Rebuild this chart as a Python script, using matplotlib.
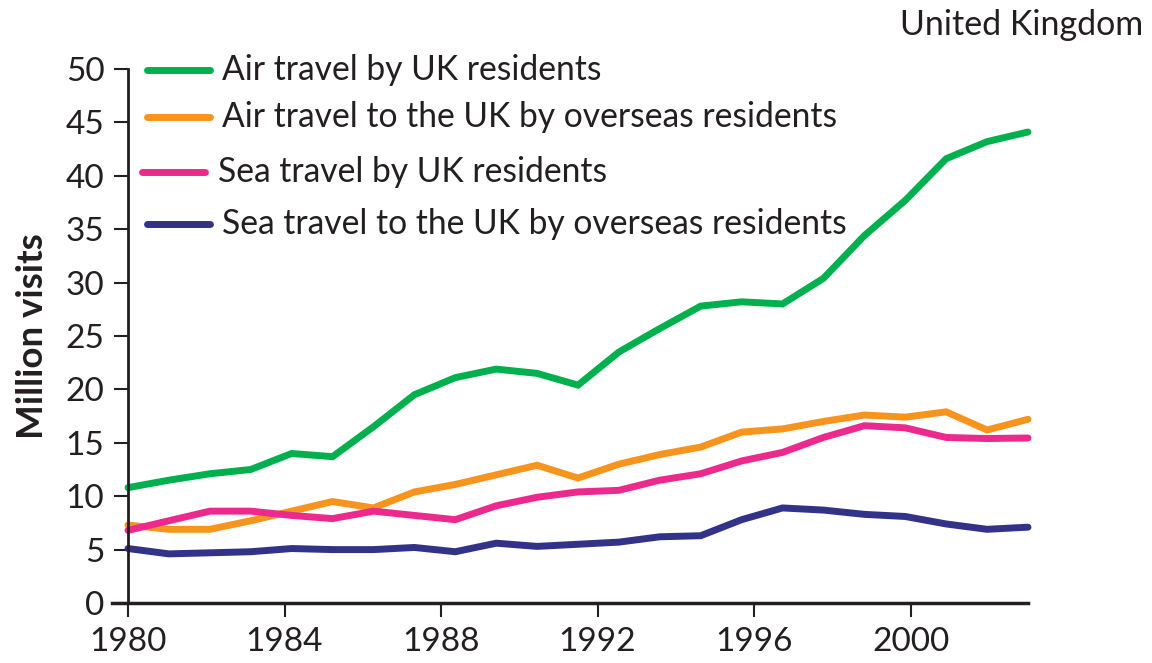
import numpy as np
import matplotlib.pyplot as plt
from matplotlib.lines import Line2D

# -------------------------
# Data (million visits)
# -------------------------
air_uk = [10.8, 11.5, 12.1, 12.5, 14.0, 13.7, 16.5, 19.5, 21.1, 21.9, 21.5, 20.4,
          23.5, 25.7, 27.8, 28.2, 28.0, 30.4, 34.4, 37.7, 41.6, 43.2, 44.1]
air_overseas = [7.3, 6.9, 6.9, 7.7, 8.6, 9.5, 8.9, 10.4, 11.1, 12.0, 12.9, 11.7,
                13.0, 13.9, 14.6, 16.0, 16.3, 17.0, 17.6, 17.4, 17.9, 16.2, 17.2]
sea_uk = [6.8, 7.7, 8.6, 8.6, 8.2, 7.9, 8.6, 8.2, 7.8, 9.1, 9.9, 10.4,
          10.55, 11.5, 12.1, 13.3, 14.1, 15.5, 16.6, 16.4, 15.5, 15.4, 15.45]
sea_overseas = [5.1, 4.6, 4.7, 4.8, 5.1, 5.0, 5.0, 5.2, 4.8, 5.6, 5.3, 5.5,
                5.7, 6.2, 6.3, 7.8, 8.9, 8.7, 8.3, 8.1, 7.4, 6.9, 7.1]

labels = ["Air travel by UK residents",
          "Air travel to the UK by overseas residents",
          "Sea travel by UK residents",
          "Sea travel to the UK by overseas residents"]
colors = ["#00b04f", "#f7941d", "#ec2a8e", "#323289"]

year_ticks = [1980, 1984, 1988, 1992, 1996, 2000]
y_ticks = list(range(0, 51, 5))

# points run evenly from 1980 to the end of the axis (2003)
x = np.linspace(1980, 2003, len(air_uk))

# -------------------------
# Figure
# -------------------------
plt.rcParams["font.family"] = ["Lato", "DejaVu Sans"]
text_col = "#231f20"

W, H = 1152, 663
fig = plt.figure(figsize=(W / 100, H / 100), dpi=100)
ax = fig.add_axes([128 / W, 1 - 603 / H, 900 / W, 534 / H])

for series, c in zip([air_uk, air_overseas, sea_uk, sea_overseas], colors):
    ax.plot(x, series, color=c, lw=5, solid_capstyle="round",
            solid_joinstyle="miter", clip_on=False)

ax.set_xlim(1980, 2003)
ax.set_ylim(0, 50)
ax.set_xticks(year_ticks)
ax.set_xticklabels([str(y) for y in year_ticks])
ax.set_yticks(y_ticks)

for s in ["top", "right"]:
    ax.spines[s].set_visible(False)
ax.spines["left"].set_linewidth(2)
ax.spines["bottom"].set_linewidth(2.5)
ax.spines["left"].set_color(text_col)
ax.spines["bottom"].set_color(text_col)
ax.spines["bottom"].set_bounds(1979.6, 2003)

ax.tick_params(axis="both", direction="out", length=10, width=1.5,
               colors=text_col, labelsize=24, pad=7)

ax.set_ylabel("Million visits", fontsize=26.5, fontweight="bold",
              color=text_col, labelpad=12)

# manual legend, rows are unevenly spaced in the original
rows_y = [70, 117, 172, 224]
line_x = [(147, 210), (147, 210), (142, 205), (147, 210)]
text_x = [222, 222, 218, 222]
for lab, c, yy, (x0, x1), tx in zip(labels, colors, rows_y, line_x, text_x):
    fig.add_artist(Line2D([x0 / W, x1 / W], [1 - yy / H, 1 - yy / H],
                          color=c, lw=5, solid_capstyle="round"))
    fig.text(tx / W, 1 - yy / H, lab, fontsize=24.2,
             color=text_col, va="center", ha="left")

fig.text(1143 / W, 1 - 25 / H, "United Kingdom", fontsize=24.5,
         color=text_col, ha="right", va="center")

fig.savefig("out.png", dpi=100)
